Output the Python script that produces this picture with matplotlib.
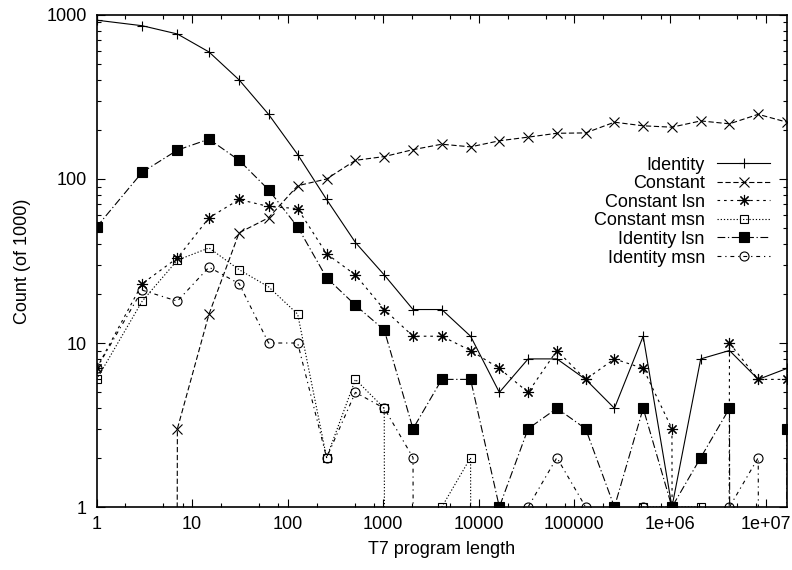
import numpy as np
import matplotlib
matplotlib.use("Agg")
import matplotlib.pyplot as plt
from matplotlib.ticker import LogLocator, FormatStrFormatter, NullFormatter

plt.rcParams['font.family'] = ['Liberation Sans', 'DejaVu Sans']
plt.rcParams['font.size'] = 13
plt.rcParams['lines.scale_dashes'] = False

# program lengths (x) and counts out of 1000 per series; 0 = nothing found
lengths = [1, 3, 7, 15, 31, 63, 127, 255, 511, 1023, 2047, 4095, 8191,
           16383, 32767, 65535, 131071, 262143, 524287, 1048575, 2097151,
           4194303, 8388607, 16777215]
identity = [930, 860, 766, 595, 402, 248, 141, 75, 41, 26, 16, 16, 11,
            5, 8, 8, 6, 4, 11, 1, 8, 9, 6, 7]
constant = [0, 0, 3, 15, 47, 58, 91, 100, 130, 137, 151, 163, 157,
            171, 180, 190, 191, 222, 211, 207, 226, 217, 248, 222]
constant_lsn = [7, 23, 33, 58, 75, 68, 66, 35, 26, 16, 11, 11, 9,
                7, 5, 9, 6, 8, 7, 3, 0, 10, 6, 6]
constant_msn = [6, 18, 32, 38, 28, 22, 15, 2, 6, 4, 0, 1, 2,
                0, 0, 0, 0, 0, 1, 1, 1, 0, 0, 0]
identity_lsn = [51, 110, 150, 175, 130, 86, 51, 25, 17, 12, 3, 6, 6,
                1, 3, 4, 3, 1, 4, 1, 2, 4, 0, 3]
identity_msn = [7, 21, 18, 29, 23, 10, 10, 2, 5, 4, 2, 0, 0,
                0, 1, 2, 1, 0, 1, 0, 0, 1, 2, 0]

names = ['Identity', 'Constant', 'Constant lsn', 'Constant msn',
         'Identity lsn', 'Identity msn']
series = [identity, constant, constant_lsn, constant_msn,
          identity_lsn, identity_msn]

# gnuplot-like line types (dash lengths in points)
styles = [
    dict(linestyle='-', marker='+', markersize=7),
    dict(linestyle=(0, (3.8, 1.9)), marker='x', markersize=7),
    dict(linestyle=(0, (1.9, 2.8)), marker=(8, 2, 0), markersize=8),
    dict(linestyle=(0, (0.9, 1.4)), marker='s', markersize=6,
         markerfacecolor='none'),
    dict(linestyle=(0, (5.6, 1.9, 0.9, 1.9)), marker='s', markersize=6.5,
         markerfacecolor='black'),
    dict(linestyle=(0, (2.8, 2.8, 0.9, 2.8)), marker='o', markersize=6.5,
         markerfacecolor='none'),
]

# zero counts can't go on a log axis: push them far below so the line
# drops straight down to the border, like gnuplot does
FLOOR = 1e-100

fig = plt.figure(figsize=(7.92, 5.70), dpi=100)
ax = fig.add_axes([0.122, 0.1105, 0.8717, 0.8632])

for vals, st in zip(series, styles):
    y = np.array(vals, dtype=float)
    y[y <= 0] = FLOOR
    ax.plot(lengths, y, color='black', linewidth=0.8,
            markeredgecolor='black', markeredgewidth=0.8, **st)

ax.set_xscale('log')
ax.set_yscale('log')
ax.set_xlim(1, 16777215)
ax.set_ylim(1, 1000)

ax.xaxis.set_major_locator(LogLocator(base=10, numticks=20))
ax.xaxis.set_minor_locator(LogLocator(base=10, subs=(2, 5, 8), numticks=20))
ax.yaxis.set_major_locator(LogLocator(base=10, numticks=20))
ax.yaxis.set_minor_locator(LogLocator(base=10, subs=np.arange(2, 10), numticks=20))
ax.xaxis.set_major_formatter(FormatStrFormatter('%g'))
ax.yaxis.set_major_formatter(FormatStrFormatter('%g'))
ax.xaxis.set_minor_formatter(NullFormatter())
ax.yaxis.set_minor_formatter(NullFormatter())

ax.tick_params(which='both', direction='in', top=True, right=True, width=0.8)
ax.tick_params(which='major', length=5.5)
ax.tick_params(which='minor', length=3)
ax.tick_params(axis='x', pad=6.3)
ax.tick_params(axis='y', pad=7)
for s in ax.spines.values():
    s.set_linewidth(1.2)

ax.set_xlabel('T7 program length')
ax.set_ylabel('Count (of 1000)')
ax.xaxis.set_label_coords(0.5, -0.070)
ax.yaxis.set_label_coords(-0.095, 0.5)

# key: right-aligned labels, sample line to the right (gnuplot style)
row0 = 0.699
pitch = 0.0378
for i, (name, st) in enumerate(zip(names, styles)):
    yr = row0 - i * pitch
    ax.text(0.881, yr - 0.0134, name, transform=ax.transAxes,
            ha='right', va='baseline')
    ax.plot([0.8986, 0.9754], [yr, yr], transform=ax.transAxes,
            color='black', linewidth=0.8, linestyle=st['linestyle'])
    mk = {k: v for k, v in st.items() if k != 'linestyle'}
    ax.plot([0.937], [yr], transform=ax.transAxes, color='black',
            markeredgecolor='black', markeredgewidth=0.8, linestyle='none', **mk)

fig.savefig('out.png', dpi=100)
